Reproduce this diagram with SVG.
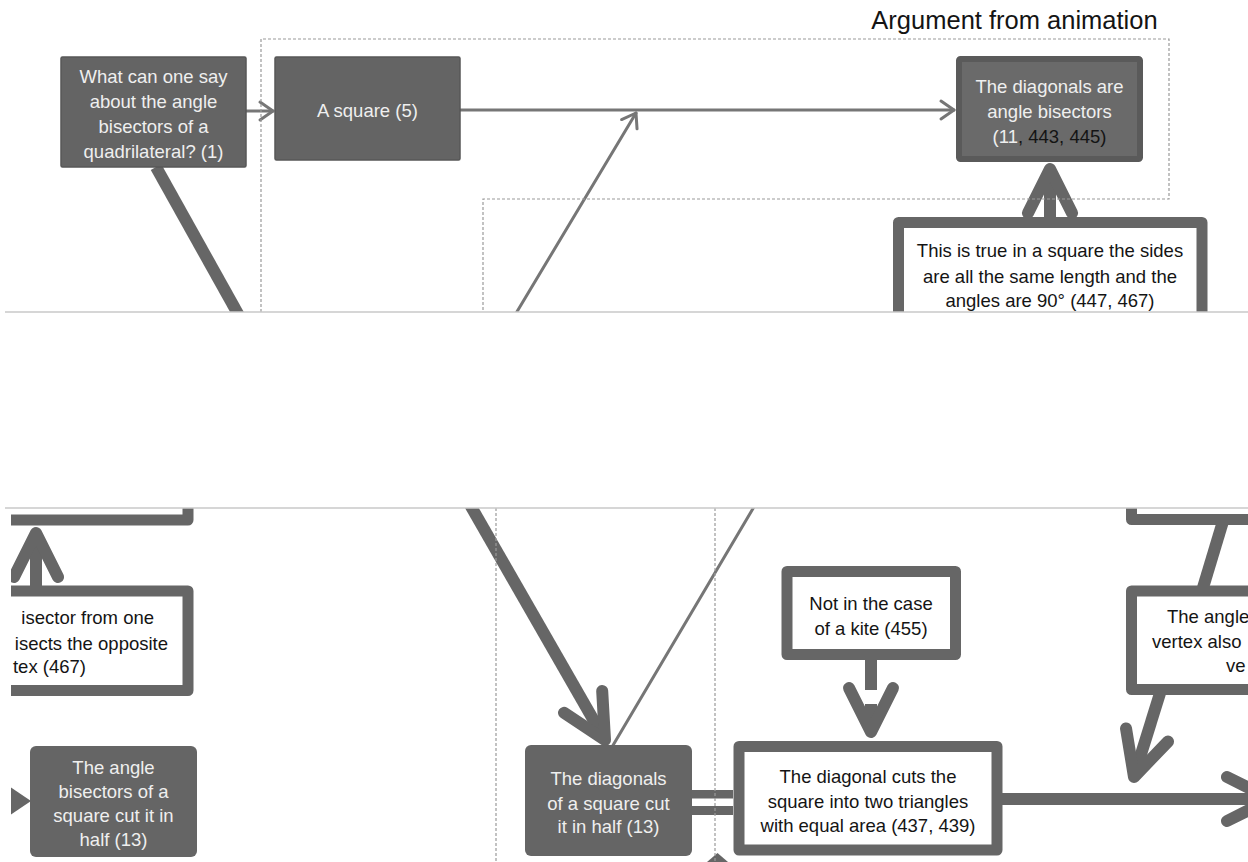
<svg xmlns="http://www.w3.org/2000/svg" width="1248" height="862" viewBox="0 0 1248 862">
<style>
 text { font-family: "Liberation Sans", Arial, sans-serif; font-size: 18.5px; }
 .w { fill: #efefef; }
 .k { fill: #141414; }
 .c { text-anchor: middle; }
 .e { text-anchor: end; }
 .dark { fill: #646464; stroke: #575757; stroke-width: 1.5; }
 .dark2 { fill: #656565; }
 .frame { fill: #ffffff; stroke: #666666; stroke-width: 11; stroke-linejoin: round; }
 .thin { fill: none; stroke: #767676; stroke-width: 3; stroke-linecap: round; }
 .thick { fill: none; stroke: #666666; stroke-width: 12; }
 .dash { fill: none; stroke: #9a9a9a; stroke-width: 1.2; stroke-dasharray: 3 2; }
 .sep { stroke: #c9c9c9; stroke-width: 1.5; }
 .solid { fill: #666666; }
</style>
<defs>
 <clipPath id="topClip"><rect x="0" y="0" width="1248" height="312"/></clipPath>
 <clipPath id="botClip"><rect x="11" y="508" width="1237" height="354"/></clipPath>
 <marker id="chev" markerUnits="userSpaceOnUse" viewBox="-16 -12 20 24" refX="0" refY="0" markerWidth="20" markerHeight="24" orient="auto" overflow="visible">
  <path d="M-13,-9 L0,0 L-13,9" fill="none" stroke="#767676" stroke-width="3" stroke-linecap="round" stroke-linejoin="round"/>
 </marker>
 <marker id="chevT" markerUnits="userSpaceOnUse" viewBox="-50 -30 56 60" refX="0" refY="0" markerWidth="56" markerHeight="60" orient="auto" overflow="visible">
  <path d="M-44,-22 L0,0 L-44,22" fill="none" stroke="#666666" stroke-width="12" stroke-linecap="round" stroke-linejoin="round"/>
 </marker>
</defs>

<rect x="0" y="0" width="1248" height="862" fill="#ffffff"/>

<text x="1014.5" y="29" class="c k" style="font-size:25.5px">Argument from animation</text>

<!-- connectors -->
<g id="connectors">
 <g clip-path="url(#topClip)">
  <line class="thick" x1="156" y1="167" x2="247" y2="330"/>
  <line class="thin" x1="246" y1="111" x2="273" y2="111" marker-end="url(#chev)"/>
  <line class="thin" x1="460" y1="110" x2="954" y2="110" marker-end="url(#chev)"/>
  <line class="thin" x1="509" y1="325" x2="636" y2="113" marker-end="url(#chev)"/>
  <line class="thick" x1="1050" y1="224" x2="1050" y2="169" marker-end="url(#chevT)"/>
 </g>
 <g clip-path="url(#botClip)">
  <line class="thick" x1="36" y1="592" x2="36" y2="533" marker-end="url(#chevT)"/>
  <line class="thick" x1="461" y1="489" x2="605" y2="740" marker-end="url(#chevT)"/>
  <line class="thin" x1="612" y1="747" x2="761" y2="495"/>
  <rect class="solid" x="692" y="790" width="41" height="8.5"/>
  <rect class="solid" x="692" y="806" width="41" height="9"/>
  <line class="thick" x1="871" y1="660" x2="871" y2="690"/>
  <line class="thick" x1="871" y1="704" x2="871" y2="732" marker-end="url(#chevT)"/>
  <line class="thick" x1="1224" y1="518" x2="1202" y2="591"/>
  <line class="thick" x1="1161" y1="690" x2="1134" y2="777" marker-end="url(#chevT)"/>
  <line class="thick" x1="997" y1="799" x2="1271" y2="799" marker-end="url(#chevT)"/>
  <polygon class="solid" points="0,780 31,801 0,822"/>
  <polygon class="solid" points="707,862 717.5,853 728,862"/>
 </g>
</g>

<!-- nodes: top section -->
<g clip-path="url(#topClip)">
 <g id="n1">
  <rect class="dark" x="61" y="57" width="185" height="110" rx="1.5"/>
  <text class="c w" x="153.5" y="83">What can one say</text>
  <text class="c w" x="153.5" y="108">about the angle</text>
  <text class="c w" x="153.5" y="133">bisectors of a</text>
  <text class="c w" x="153.5" y="158">quadrilateral? (1)</text>
 </g>
 <g id="n5">
  <rect class="dark" x="275" y="57" width="185" height="103" rx="1.5"/>
  <text class="c w" x="367.5" y="117">A square (5)</text>
 </g>
 <g id="n11">
  <rect x="959" y="59" width="181" height="100" rx="1.5" fill="#6a6a6a" stroke="#5a5a5a" stroke-width="6"/>
  <text class="c w" x="1049.5" y="93">The diagonals are</text>
  <text class="c w" x="1049.5" y="118">angle bisectors</text>
  <text class="c w" x="1049.5" y="143">(11<tspan class="k">, 443, 445)</tspan></text>
 </g>
 <g id="n447">
  <rect class="frame" x="898.5" y="222.5" width="303.5" height="130"/>
  <text class="c k" x="1050" y="257">This is true in a square the sides</text>
  <text class="c k" x="1050" y="283">are all the same length and the</text>
  <text class="c k" x="1050" y="307">angles are 90° (447, 467)</text>
 </g>
</g>

<!-- nodes: lower section -->
<g clip-path="url(#botClip)">
 <g id="nLeftUpper">
  <rect class="frame" x="-60" y="420" width="248" height="100"/>
 </g>
 <g id="n467left">
  <rect class="frame" x="-60" y="591" width="248" height="99.5"/>
  <text class="e k" x="154" y="624">isector from one</text>
  <text class="e k" x="168" y="650">isects the opposite</text>
  <text class="e k" x="86" y="673">tex (467)</text>
 </g>
 <g id="n13a">
  <rect class="dark2" x="30" y="746" width="167" height="111" rx="6"/>
  <text class="c w" x="113.5" y="774">The angle</text>
  <text class="c w" x="113.5" y="798">bisectors of a</text>
  <text class="c w" x="113.5" y="822">square cut it in</text>
  <text class="c w" x="113.5" y="846">half (13)</text>
 </g>
 <g id="n13b">
  <rect class="dark2" x="525" y="745" width="167" height="111" rx="6"/>
  <text class="c w" x="608.5" y="785">The diagonals</text>
  <text class="c w" x="608.5" y="810">of a square cut</text>
  <text class="c w" x="608.5" y="833">it in half (13)</text>
 </g>
 <g id="n455">
  <rect class="frame" x="787" y="571.5" width="168.5" height="83"/>
  <text class="c k" x="871" y="610">Not in the case</text>
  <text class="c k" x="871" y="635">of a kite (455)</text>
 </g>
 <g id="n437">
  <rect class="frame" x="739" y="746.5" width="258" height="103.5"/>
  <text class="c k" x="868" y="783">The diagonal cuts the</text>
  <text class="c k" x="868" y="808">square into two triangles</text>
  <text class="c k" x="868" y="832">with equal area (437, 439)</text>
 </g>
 <g id="nRightUpper">
  <rect class="frame" x="1131.5" y="420" width="200" height="99.5"/>
 </g>
 <g id="n467right">
  <rect class="frame" x="1131.5" y="591" width="200" height="98.5"/>
  <text class="k" x="1167" y="623">The angle</text>
  <text class="k" x="1152" y="648">vertex also</text>
  <text class="k" x="1226" y="672">ve</text>
 </g>
</g>

<!-- dashed frames -->
<g id="frames">
 <path class="dash" d="M261,312 V39 H1169 V199 H483 V312"/>
 <line class="dash" x1="496" y1="508" x2="496" y2="862"/>
 <line class="dash" x1="715" y1="508" x2="715" y2="862"/>
</g>

<!-- section separators -->
<line class="sep" x1="5" y1="312" x2="1248" y2="312"/>
<line class="sep" x1="5" y1="508" x2="1248" y2="508"/>
</svg>
